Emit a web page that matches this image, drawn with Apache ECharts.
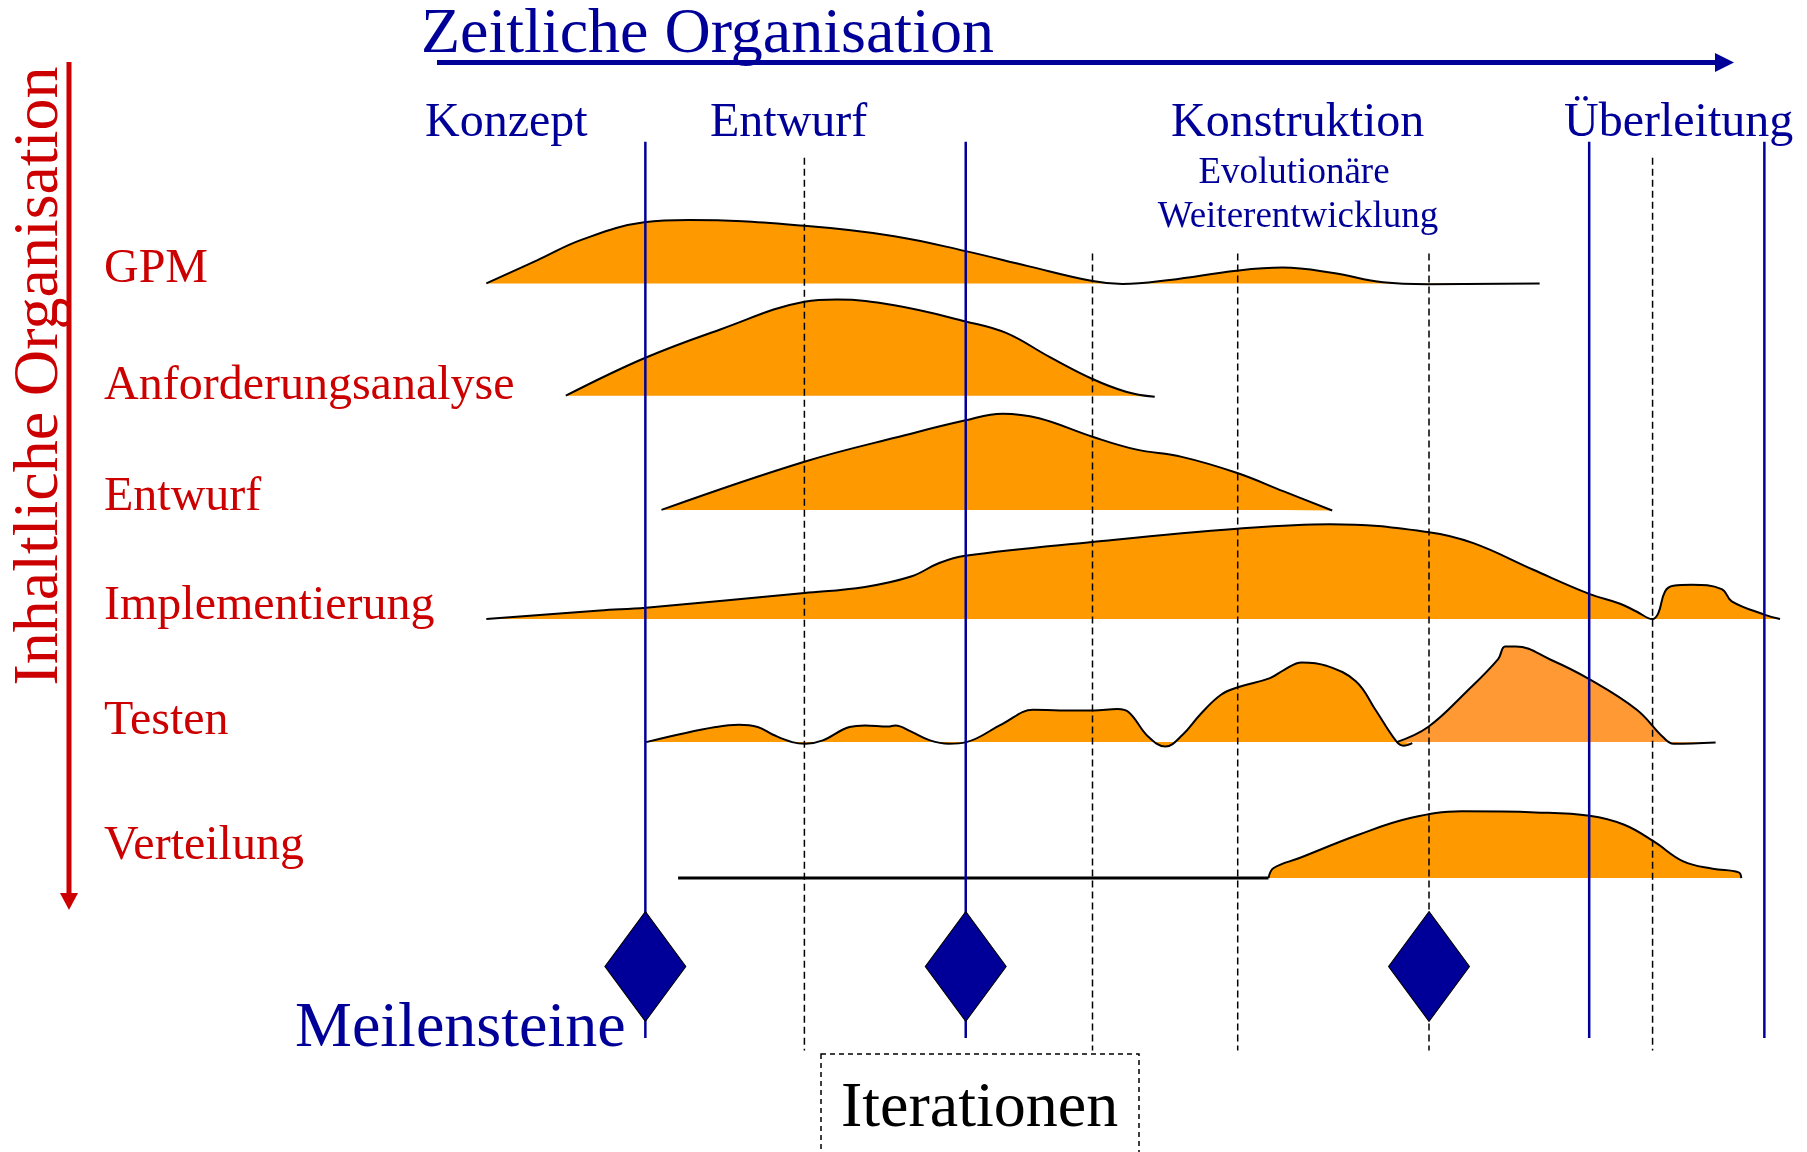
<!DOCTYPE html>
<html>
<head>
<meta charset="utf-8">
<title>Zeitliche Organisation</title>
<script src="https://cdn.jsdelivr.net/npm/echarts@6/dist/echarts.min.js"></script>
<style>
html, body { margin: 0; padding: 0; background: #fff; }
#chart { width: 1807px; height: 1152px; }
</style>
</head>
<body>
<div id="chart"></div>
<script>
// activities (rows) and the level of each row's base line
const activities = [ 'GPM', 'Anforderungsanalyse', 'Entwurf', 'Implementierung', 'Testen', 'Verteilung' ];
const rowLevel = [ 246, 343.5, 442.6, 537.4, 644.2, 762.2 ];

const phases = [ 'Konzept', 'Entwurf', 'Konstruktion', 'Überleitung' ];

// effort over time, per activity
const gpmTime = [ 422, 466, 505, 559, 598, 698, 776, 838, 892, 948, 974, 1015, 1073, 1113, 1157, 1200, 1239, 1336 ];
const gpmEffort = [ 0, 20, 38, 53, 55, 50, 41, 28, 15, 2, -0.5, 3, 11, 13.7, 9, 1, -0.7, 0 ];

const anfTime = [ 491, 559, 625, 698, 726, 776, 838, 873, 911, 948, 977, 1002 ];
const anfEffort = [ 0, 32.5, 57.5, 81.5, 83.5, 78.5, 64.5, 54.5, 33.5, 14.5, 3.5, -1 ];

const entTime = [ 574, 698, 786, 837, 870, 901.6, 948, 985.5, 1025.5, 1073.6, 1114, 1156 ];
const entEffort = [ 0, 41.8, 65, 77.5, 83.5, 79.5, 63.5, 52.5, 46, 32, 16, -0.5 ];

const implTime = [ 422, 520.6, 560.5, 698, 750.6, 790.5, 815, 837.5, 947.6, 1073.6, 1154, 1240, 1278.5, 1330.5,
	1379, 1405.8, 1420, 1434, 1439, 1444.8, 1452, 1468, 1494, 1502.7, 1531.6, 1544.6 ];
const implEffort = [ 0, 7.4, 9.9, 22.6, 27.9, 36.9, 48.7, 55, 66.9, 78.4, 82.4, 75.4, 65.9, 42.8,
	21.9, 13.3, 6.6, 0, 5.2, 24, 28.9, 29.8, 26, 15.4, 3.7, 0 ];

const testTime = [ 560.6, 587.8, 621, 641, 657.5, 670.8, 687.4, 699, 714, 737.2, 750.6, 770.5, 777, 790.3, 807, 823.5,
	838.5, 870, 896.6, 919.8, 948.8, 969.7, 979.7, 996.2, 1011.2, 1026.2, 1041.3, 1059.5, 1074.8, 1102, 1114.4,
	1129.6, 1150.9, 1176.7, 1193.5, 1211.7, 1217.8, 1225.5 ];
const testEffort = [ 0, 6.4, 13.1, 15.1, 13.1, 6.4, 0, -1.4, 1.5, 13.1, 14.5, 13.6, 14.5, 9.3, 1.5, -1.4,
	0, 15.9, 28.1, 27.5, 27.5, 28.7, 25.8, 4.9, -3.8, 6.4, 23.8, 41.1, 47.8, 55.6, 62.8,
	69.2, 66.3, 52.7, 28.1, 0.6, -3.1, -0.8 ];

// last test cycle (lighter colour)
const testLateTime = [ 1212, 1239.2, 1272.7, 1300, 1306, 1315.3, 1345.6, 1379, 1420.3, 1443, 1452.2, 1488.7 ];
const testLateEffort = [ 0, 13.1, 44, 72.1, 83, 83, 71.5, 54.7, 28.1, 4.4, -1.4, -0.3 ];

const vertIdleTime = [ 588.4, 1100.7 ];
const vertTime = [ 1100.7, 1105.2, 1127.6, 1178.8, 1223.7, 1268.5, 1332.5, 1379.3, 1409.4, 1435, 1460.6, 1486.2, 1508.7, 1511 ];
const vertEffort = [ 0, 8.7, 17.4, 37.6, 52.1, 57.9, 57, 54.1, 46.3, 31.8, 14.5, 8.1, 4.9, 0 ];

// phase borders, iteration borders and milestones on the time axis
const phaseBorders = [ 560, 838, 1379, 1531 ];
const iterationBorders = [ 698, 948, 1074, 1240, 1434 ];
const milestones = [ 560, 838, 1240 ];

const NAVY = '#000099';
const RED = '#CC0000';
const ORANGE = '#FF9900';
const SERIF = '"Liberation Serif", "Times New Roman", serif';

function toPoints( time, effort, row ) {
	return time.map( ( t, i ) => [ t, rowLevel[ row ] - effort[ i ] ] );
}

function hump( time, effort, row, color ) {
	return {
		type: 'line',
		data: toPoints( time, effort, row ),
		smooth: 0.4,
		symbol: 'none',
		z: 2,
		lineStyle: { color: '#000', width: 2 },
		areaStyle: { color: color, opacity: 1, origin: rowLevel[ row ] }
	};
}

function guide( t, top, bottom, dashed ) {
	return {
		type: 'line',
		data: [ [ t, top ], [ t, bottom ] ],
		symbol: 'none',
		z: 4,
		lineStyle: dashed ?
			{ color: '#000', width: 1.5, type: [ 7, 4 ] } :
			{ color: NAVY, width: 2.5 }
	};
}

const series = [
	hump( gpmTime, gpmEffort, 0, ORANGE ),
	hump( anfTime, anfEffort, 1, ORANGE ),
	hump( entTime, entEffort, 2, ORANGE ),
	hump( implTime, implEffort, 3, ORANGE ),
	hump( testTime, testEffort, 4, ORANGE ),
	hump( testLateTime, testLateEffort, 4, '#FF9933' ),
	{
		type: 'line',
		data: vertIdleTime.map( t => [ t, rowLevel[ 5 ] ] ),
		symbol: 'none',
		z: 2,
		lineStyle: { color: '#000', width: 3 }
	},
	hump( vertTime, vertEffort, 5, ORANGE )
];

// iteration borders: the first and last start higher up
iterationBorders.forEach( ( t, i ) => {
	const top = ( i === 0 || i === iterationBorders.length - 1 ) ? 137 : 220;
	series.push( guide( t, top, 912, true ) );
} );
phaseBorders.forEach( t => series.push( guide( t, 123, 901, false ) ) );

series.push( {
	type: 'scatter',
	data: milestones.map( t => [ t, 839 ] ),
	symbol: 'diamond',
	symbolSize: [ 81, 110 ],
	z: 6,
	itemStyle: { color: NAVY, borderColor: '#000', borderWidth: 1, opacity: 1 }
} );

function label( text, x, y, size, color, align ) {
	return {
		type: 'text',
		x: x,
		y: y,
		style: {
			text: text,
			font: size + 'px ' + SERIF,
			fill: color,
			align: align || 'left',
			verticalAlign: 'middle'
		}
	};
}

const rowLabelY = [ 269, 386, 497, 606, 721, 846 ];
const phaseX = [ 425, 710, 1171, 1564 ];

const graphic = [
	label( 'Zeitliche Organisation', 421, 35, 64, NAVY ),
	{ type: 'line', shape: { x1: 437, y1: 62.5, x2: 1720, y2: 62.5 }, style: { stroke: NAVY, lineWidth: 5 } },
	{ type: 'polygon', shape: { points: [ [ 1715, 53 ], [ 1734, 62.5 ], [ 1715, 72 ] ] }, style: { fill: NAVY } },
	{ type: 'line', shape: { x1: 69, y1: 62, x2: 69, y2: 895 }, style: { stroke: RED, lineWidth: 5 } },
	{ type: 'polygon', shape: { points: [ [ 60, 893 ], [ 78, 893 ], [ 69, 910 ] ] }, style: { fill: RED } },
	{
		type: 'text',
		x: 40,
		y: 376,
		rotation: Math.PI / 2,
		style: {
			text: 'Inhaltliche Organisation',
			font: '64px ' + SERIF,
			fill: RED,
			align: 'center',
			verticalAlign: 'middle'
		}
	},
	label( 'Evolutionäre', 1294, 173, 37, NAVY, 'center' ),
	label( 'Weiterentwicklung', 1298, 217, 37, NAVY, 'center' ),
	label( 'Meilensteine', 295, 1029, 64, NAVY ),
	{
		type: 'rect',
		shape: { x: 821, y: 1054, width: 318, height: 130 },
		style: { fill: 'none', stroke: '#000', lineWidth: 1.5, lineDash: [ 5, 4 ] }
	},
	label( 'Iterationen', 841, 1109, 64, '#000' )
];
phases.forEach( ( p, i ) => graphic.push( label( p, phaseX[ i ], 123, 48, NAVY ) ) );
activities.forEach( ( a, i ) => graphic.push( label( a, 104, rowLabelY[ i ], 48, RED ) ) );

const chart = echarts.init( document.getElementById( 'chart' ), null, { renderer: 'canvas' } );
chart.setOption( {
	animation: false,
	backgroundColor: '#fff',
	grid: { left: 0, right: 0, top: 0, bottom: 0 },
	xAxis: { type: 'value', min: 0, max: 1568, show: false },
	yAxis: { type: 'value', min: 0, max: 1000, inverse: true, show: false },
	series: series,
	graphic: graphic
} );
</script>
</body>
</html>
